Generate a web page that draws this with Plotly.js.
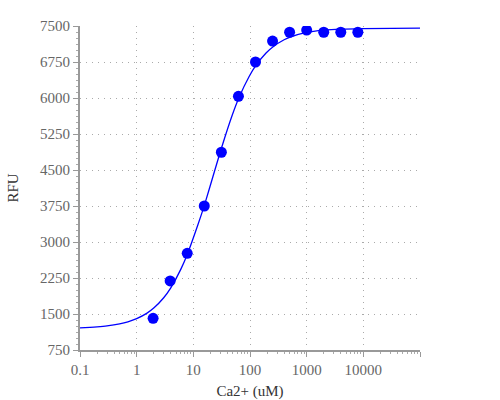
<!DOCTYPE html>
<html>
<head>
<meta charset="utf-8">
<script src="https://cdn.plot.ly/plotly-3.0.1.min.js"></script>
<style>html,body{margin:0;padding:0;background:#fff;}#chart{width:500px;height:400px;}</style>
</head>
<body>
<div id="chart"></div>
<script>
// Measured data points
const concUM = [1.95, 3.9, 7.8, 15.6, 31.25, 62.5, 125, 250, 500, 1000, 2000, 4000, 8000];
const rfu = [1410, 2190, 2765, 3750, 4870, 6035, 6750, 7185, 7370, 7415, 7370, 7370, 7370];

// Fitted curve
const fitX = [0.1, 0.15, 0.2, 0.3, 0.5, 0.7, 1, 1.5, 2, 3, 4, 6, 8, 12, 16, 24, 32, 48, 64, 96, 128, 192, 256, 400, 512, 1000, 2000, 4000, 10000, 100000];
const fitY = [1212, 1221, 1231, 1251, 1293, 1336, 1402, 1512, 1623, 1839, 2046, 2430, 2773, 3354, 3800, 4500, 4990, 5625, 6010, 6443, 6683, 6938, 7069, 7213, 7269, 7365, 7412, 7435, 7447, 7454];

const xTickVals = [0.1, 1, 10, 100, 1000, 10000, 100000];
const xTickText = ['0.1', '1', '10', '100', '1000', '10000', ''];
const yTickVals = [750, 1500, 2250, 3000, 3750, 4500, 5250, 6000, 6750, 7500];

const serif = 'Liberation Serif, Times New Roman, serif';

const traces = [
  {
    x: fitX, y: fitY, type: 'scatter', mode: 'lines',
    line: {color: '#0000ff', width: 1.3, shape: 'spline', smoothing: 0.6},
    hoverinfo: 'skip', showlegend: false
  },
  {
    x: concUM, y: rfu, type: 'scatter', mode: 'markers',
    marker: {color: '#0000ff', size: 11},
    showlegend: false
  }
];

const layout = {
  width: 500, height: 400,
  margin: {l: 80, r: 80, t: 26, b: 50},
  paper_bgcolor: '#ffffff', plot_bgcolor: '#ffffff',
  showlegend: false,
  font: {family: serif, size: 15, color: '#666666'},
  xaxis: {
    type: 'log', range: [-1, 5],
    tickmode: 'array', tickvals: xTickVals, ticktext: xTickText,
    showline: true, linecolor: '#999999', linewidth: 2,
    ticks: 'outside', ticklen: 5, tickcolor: '#999999', tickwidth: 1,
    showgrid: true, gridcolor: '#aaaaaa', gridwidth: 1, griddash: '1px,5px',
    minor: {dtick: 'D1', ticks: 'outside', ticklen: 2, tickcolor: '#aaaaaa', showgrid: false},
    zeroline: false,
    tickfont: {family: serif, size: 15, color: '#666666'},
    title: {text: 'Ca2+ (uM)', font: {family: serif, size: 15, color: '#333333'}, standoff: 10}
  },
  yaxis: {
    range: [750, 7500],
    tickmode: 'array', tickvals: yTickVals,
    showline: true, linecolor: '#999999', linewidth: 2,
    ticks: 'outside', ticklen: 5, tickcolor: '#999999', tickwidth: 1,
    showgrid: true, gridcolor: '#aaaaaa', gridwidth: 1, griddash: '1px,5px',
    minor: {dtick: 125, tick0: 750, ticks: 'outside', ticklen: 2, tickcolor: '#aaaaaa', showgrid: false},
    zeroline: false,
    tickfont: {family: serif, size: 15, color: '#666666'},
    title: {text: 'RFU', font: {family: serif, size: 15, color: '#333333'}, standoff: 18}
  }
};

Plotly.newPlot('chart', traces, layout, {displayModeBar: false, staticPlot: true});
</script>
</body>
</html>
